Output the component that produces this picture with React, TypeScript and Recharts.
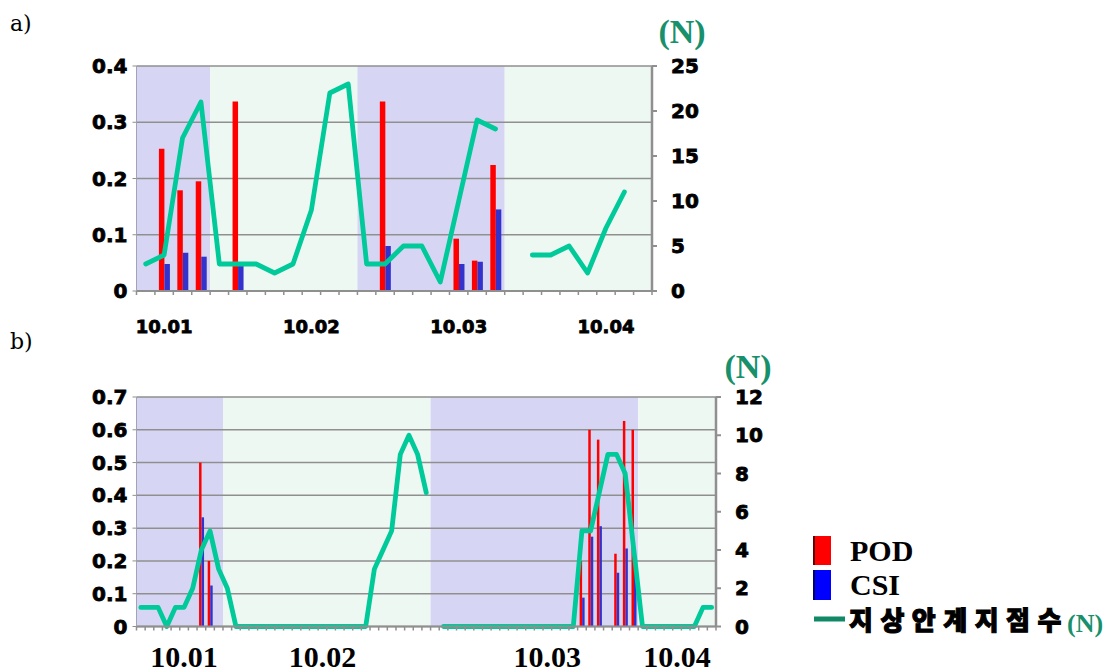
import React from "react";
import { Bar, CartesianGrid, ComposedChart, Line, ReferenceArea, XAxis, YAxis } from "recharts";

// a) 28 steps over the four days
const stationsA = [3, 4, 17, 21, 3, 3, 3, 2, 3, 9, 22, 23, 3, 3, 5, 5, 1, 10, 19, 18, null, 4, 4, 5, 2, 7, 11, null];
const podA: [number, number][] = [[1, 0.253], [2, 0.179], [3, 0.195], [5, 0.337], [13, 0.337], [17, 0.093], [18, 0.054], [19, 0.224]];
const csiA: [number, number][] = [[1, 0.048], [2, 0.068], [3, 0.061], [5, 0.048], [13, 0.08], [17, 0.048], [18, 0.052], [19, 0.145]];
const daysA = ["10.01", "10.02", "10.03", "10.04"];
const dayLabelIdxA = [1, 9, 17, 25];
const bandsA = [[0, 3], [4, 11], [12, 19], [20, 27]];

// b) 67 hourly steps
const stationsB = [
  1, 1, 1, 0, 1, 1, 2, 4, 5, 3, 2,
  0, 0, 0, 0, 0, 0, 0, 0, 0, 0, 0, 0, 0, 0, 0, 0,
  3, 4, 5, 9, 10, 9, 7, null,
  0, 0, 0, 0, 0, 0, 0, 0, 0, 0, 0, 0, 0, 0, 0, 0,
  5, 5, 7, 9, 9, 8, 4,
  0, 0, 0, 0, 0, 0, 0, 1, 1,
];
const podB: [number, number][] = [[7, 0.5], [8, 0.2], [51, 0.2], [52, 0.6], [53, 0.57], [55, 0.222], [56, 0.627], [57, 0.6]];
const csiB: [number, number][] = [[7, 0.333], [8, 0.125], [51, 0.088], [52, 0.274], [53, 0.306], [55, 0.164], [56, 0.238], [57, 0.19]];
const daysB = ["10.01", "10.02", "10.03", "10.04"];
const dayLabelIdxB = [5, 21, 47, 62];
const bandsB = [[0, 9], [10, 33], [34, 57], [58, 66]];

const leftTicksA = [0, 0.1, 0.2, 0.3, 0.4];
const rightTicksA = [0, 5, 10, 15, 20, 25];
const leftTicksB = [0, 0.1, 0.2, 0.3, 0.4, 0.5, 0.6, 0.7];
const rightTicksB = [0, 2, 4, 6, 8, 10, 12];

const BAND_COLORS = ["#D6D6F4", "#EEF8F2"];
const LINE = "#00C99A";
const GRAY = "#8f8f8f";

const buildRows = (n: (number | null)[], pod: [number, number][], csi: [number, number][]) => {
  const p = new Map(pod);
  const c = new Map(csi);
  return n.map((v, i) => ({ i, n: v, pod: p.get(i) ?? null, csi: c.get(i) ?? null }));
};

const rowsA = buildRows(stationsA, podA, csiA);
const rowsB = buildRows(stationsB, podB, csiB);

const numTick = { fontFamily: "DejaVu Sans", fontWeight: 700, fontSize: 20, fill: "#000", stroke: "#000", strokeWidth: 0.8 };

// tick marks sit on the category boundaries, day labels on chosen categories
const makeXTick = (labels: Map<number, string>, last: number, len: number, dy: number, font: any) => (props: any) => {
  const { x, y, payload } = props;
  const half = payload.offset || 0;
  const label = labels.get(payload.value);
  return (
    <g>
      <line x1={x - half} x2={x - half} y1={y} y2={y + len} stroke={GRAY} strokeWidth={1.5} />
      {payload.value === last && <line x1={x + half} x2={x + half} y1={y} y2={y + len} stroke={GRAY} strokeWidth={1.5} />}
      {label && (
        <text x={x} y={y + dy} textAnchor="middle" {...font}>
          {label}
        </text>
      )}
    </g>
  );
};

function Panel(props: {
  rows: any[];
  bands: number[][];
  days: string[];
  dayIdx: number[];
  leftTicks: number[];
  rightTicks: number[];
  width: number;
  height: number;
  margin: any;
  xHeight: number;
  barSize: number;
  labelDy: number;
  labelFont: any;
}) {
  const { rows, bands, days, dayIdx, leftTicks, rightTicks } = props;
  const labels = new Map(dayIdx.map((d, k) => [d, days[k]] as [number, string]));
  return (
    <ComposedChart width={props.width} height={props.height} data={rows} margin={props.margin} barGap={0}>
      {bands.map((b, k) => (
        <ReferenceArea
          key={k}
          yAxisId="left"
          x1={b[0]}
          x2={b[1]}
          ifOverflow="visible"
          fill={BAND_COLORS[k % 2]}
          fillOpacity={1}
          stroke="none"
          zIndex={-150}
        />
      ))}
      <CartesianGrid vertical={false} yAxisId="left" stroke={GRAY} strokeWidth={1.5} />
      <XAxis
        dataKey="i"
        interval={0}
        height={props.xHeight}
        tickSize={0}
        tickMargin={0}
        tickLine={false}
        axisLine={{ stroke: GRAY, strokeWidth: 2 }}
        tick={makeXTick(labels, rows.length - 1, 4, props.labelDy, props.labelFont)}
      />
      <YAxis
        yAxisId="left"
        width={136.5}
        domain={[0, leftTicks[leftTicks.length - 1]]}
        ticks={leftTicks}
        interval={0}
        tickSize={4}
        tickMargin={5}
        axisLine={{ stroke: "#a3a3b8", strokeWidth: 1 }}
        tickLine={{ stroke: GRAY }}
        tick={numTick}
        tickFormatter={(v: number) => (v === 0 ? "0" : String(v))}
      />
      <YAxis
        yAxisId="right"
        orientation="right"
        width={60}
        domain={[0, rightTicks[rightTicks.length - 1]]}
        ticks={rightTicks}
        interval={0}
        tickSize={5}
        tickMargin={14}
        axisLine={{ stroke: GRAY, strokeWidth: 2.5 }}
        tickLine={{ stroke: GRAY, strokeWidth: 2 }}
        tick={{ ...numTick, textAnchor: "start" }}
      />
      <Bar yAxisId="left" dataKey="pod" fill="#FF0000" barSize={props.barSize} isAnimationActive={false} />
      <Bar yAxisId="left" dataKey="csi" fill="#3333CC" barSize={props.barSize} isAnimationActive={false} />
      <Line
        yAxisId="right"
        dataKey="n"
        stroke={LINE}
        strokeWidth={4.8}
        dot={false}
        activeDot={false}
        strokeLinejoin="round"
        strokeLinecap="round"
        isAnimationActive={false}
      />
    </ComposedChart>
  );
}

const serifBold = { fontFamily: "Liberation Serif", fontWeight: 700 };

export default function App() {
  return (
    <div style={{ position: "absolute", left: 0, top: 0, width: 1110, height: 671, background: "#fff", overflow: "hidden" }}>
      <div style={{ position: "absolute", left: 0, top: 0 }}>
        <Panel
          rows={rowsA}
          bands={bandsA}
          days={daysA}
          dayIdx={dayLabelIdxA}
          leftTicks={leftTicksA}
          rightTicks={rightTicksA}
          width={720}
          height={345}
          margin={{ top: 66, right: 8, bottom: 0, left: 0 }}
          xHeight={54}
          barSize={5.5}
          labelDy={42}
          labelFont={{ ...numTick, fontSize: 18 }}
        />
      </div>
      <div style={{ position: "absolute", left: 0, top: 360 }}>
        <Panel
          rows={rowsB}
          bands={bandsB}
          days={daysB}
          dayIdx={dayLabelIdxB}
          leftTicks={leftTicksB}
          rightTicks={rightTicksB}
          width={800}
          height={311}
          margin={{ top: 37, right: 24, bottom: 0, left: 0 }}
          xHeight={44.5}
          barSize={2.5}
          labelDy={40}
          labelFont={{ ...serifBold, fontSize: 30, fill: "#000" }}
        />
      </div>
      <svg width={1110} height={671} style={{ position: "absolute", left: 0, top: 0, pointerEvents: "none" }}>
        <text x={10} y={31} fontFamily="DejaVu Serif" fontSize={22}>a)</text>
        <text x={10} y={349} fontFamily="DejaVu Serif" fontSize={22}>b)</text>
        <text x={682} y={43} textAnchor="middle" {...serifBold} fontSize={34} fill="#17906B">(N)</text>
        <text x={748} y={378} textAnchor="middle" {...serifBold} fontSize={34} fill="#17906B">(N)</text>
        <rect x={813} y={536} width={18} height={29} fill="#FF0000" />
        <rect x={813} y={536} width={2} height={29} fill="#600000" />
        <rect x={813} y={570} width={18} height={30} fill="#0000FF" />
        <rect x={813} y={570} width={2} height={30} fill="#000060" />
        <rect x={814} y={616.5} width={31} height={5} fill="#118866" />
        <text x={850} y={561} {...serifBold} fontSize={30}>POD</text>
        <text x={850} y={595} {...serifBold} fontSize={30}>CSI</text>
        <text x={849} y={630} fontFamily="Noto Sans CJK KR" fontWeight={900} fontSize={26} letterSpacing={7.5} stroke="#000" strokeWidth={1}>
          지상안계지점수
        </text>
        <text x={1067} y={632} {...serifBold} fontSize={26} fill="#17906B">(N)</text>
      </svg>
    </div>
  );
}
